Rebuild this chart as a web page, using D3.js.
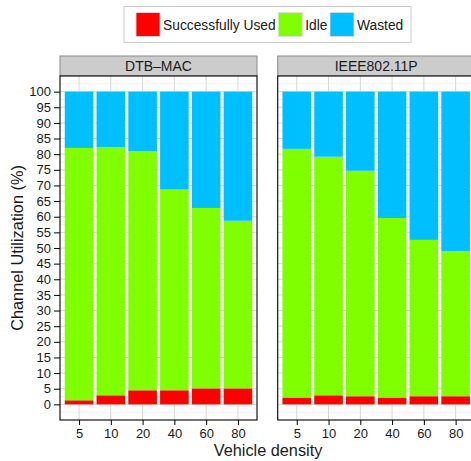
<!DOCTYPE html>
<html><head><meta charset="utf-8">
<script src="https://cdn.jsdelivr.net/npm/d3@7"></script>
<style>body{margin:0;background:#fff}svg{display:block;font-family:"Liberation Sans",Arial,sans-serif}</style>
</head><body><svg id="c" width="471" height="461"></svg>
<script>
const categories = ["5","10","20","40","60","80"];
const panels = ["DTB\u2013MAC","IEEE802.11P"];
const seriesNames = ["Successfully Used","Idle","Wasted"];
const seriesColors = ["#FF0000","#7FFF00","#00BFFF"];
const yTicks = d3.range(0,101,5);
// DTB-MAC
const dtbUsed   = [1.3, 2.9, 4.5, 4.5, 5.1, 5.1];
const dtbIdle   = [80.7, 79.4, 76.5, 64.2, 57.7, 53.6];
const dtbWasted = [18.0, 17.7, 19.0, 31.3, 37.2, 41.3];
// IEEE802.11P
const ieeeUsed   = [2.2, 2.9, 2.6, 2.2, 2.6, 2.6];
const ieeeIdle   = [79.5, 76.3, 72.1, 57.4, 50.0, 46.4];
const ieeeWasted = [18.3, 20.8, 25.3, 40.4, 47.4, 51.0];

const panelData = [[dtbUsed,dtbIdle,dtbWasted],[ieeeUsed,ieeeIdle,ieeeWasted]];

const svg = d3.select("#c");
const pTop = 76, pBottom = 420, panelW = 197, panelX = [60, 277.7];
const y = d3.scaleLinear().domain([-5,105]).range([pBottom, pTop]);

panels.forEach((name, pi) => {
  const x0 = panelX[pi];
  const x = d3.scalePoint().domain(categories).range([x0, x0+panelW]).padding(0.6);
  const bw = x.step()*0.9;
  const g = svg.append("g");
  // strip
  g.append("rect").attr("x",x0).attr("y",56).attr("width",panelW).attr("height",pTop-56)
    .attr("fill","#CCCCCC").attr("stroke","#8a8a8a").attr("stroke-width",1);
  g.append("text").attr("x",x0+panelW/2).attr("y",71).attr("text-anchor","middle")
    .attr("font-size",14).attr("fill","#1a1a1a").text(name);
  // background
  g.append("rect").attr("x",x0).attr("y",pTop).attr("width",panelW).attr("height",pBottom-pTop).attr("fill","#fff");
  // minor grid
  const minor = d3.range(-2.5,105,5);
  g.selectAll(".mn").data(minor).enter().append("line")
    .attr("x1",x0).attr("x2",x0+panelW).attr("y1",d=>y(d)).attr("y2",d=>y(d))
    .attr("stroke","#f0f0f0").attr("stroke-width",1);
  g.selectAll(".mj").data(yTicks).enter().append("line")
    .attr("x1",x0).attr("x2",x0+panelW).attr("y1",d=>y(d)).attr("y2",d=>y(d))
    .attr("stroke","#d6d6d6").attr("stroke-width",1);
  g.selectAll(".vx").data(categories).enter().append("line")
    .attr("x1",d=>x(d)).attr("x2",d=>x(d)).attr("y1",pTop).attr("y2",pBottom)
    .attr("stroke","#d6d6d6").attr("stroke-width",1);
  // stacked bars
  const rows = categories.map((c,i)=>{const o={cat:c}; seriesNames.forEach((s,si)=>o[s]=panelData[pi][si][i]); return o;});
  const stack = d3.stack().keys(seriesNames)(rows);
  stack.forEach((layer, li) => {
    g.selectAll(".b"+li).data(layer).enter().append("rect")
      .attr("x",d=>x(d.data.cat)-bw/2).attr("width",bw)
      .attr("y",d=>y(d[1])).attr("height",d=>y(d[0])-y(d[1]))
      .attr("fill",seriesColors[li]);
  });
  // border
  g.append("rect").attr("x",x0).attr("y",pTop).attr("width",panelW).attr("height",pBottom-pTop)
    .attr("fill","none").attr("stroke","#000").attr("stroke-width",1.1);
  // x axis
  const xa = g.append("g").attr("transform",`translate(0,${pBottom})`).call(d3.axisBottom(x).tickSize(5).tickPadding(4));
  xa.select(".domain").remove();
  xa.selectAll("text").attr("font-size",13).attr("fill","#1a1a1a").attr("font-family","Liberation Sans, Arial, sans-serif");
  xa.selectAll("line").attr("stroke","#000");
  if (pi===0) {
    const ya = g.append("g").attr("transform",`translate(${x0},0)`).call(d3.axisLeft(y).tickValues(yTicks).tickSize(6).tickPadding(3));
    ya.select(".domain").remove();
    ya.selectAll("text").attr("font-size",13).attr("fill","#1a1a1a").attr("font-family","Liberation Sans, Arial, sans-serif");
    ya.selectAll("line").attr("stroke","#000");
  }
});

// axis titles
svg.append("text").attr("x",268).attr("y",456).attr("text-anchor","middle").attr("font-size",16.3).attr("fill","#1a1a1a").text("Vehicle density");
svg.append("text").attr("transform",`translate(23,${(pTop+pBottom)/2}) rotate(-90)`).attr("text-anchor","middle").attr("font-size",16.3).attr("fill","#1a1a1a").text("Channel Utilization (%)");

// legend
const lg = svg.append("g");
lg.append("rect").attr("x",124).attr("y",6.5).attr("width",287).attr("height",36).attr("fill","#fff").attr("stroke","#cccccc").attr("stroke-width",1);
let lx = 136;
seriesNames.forEach((s,i)=>{
  lg.append("rect").attr("x",lx).attr("y",12.5).attr("width",24).attr("height",24).attr("fill",seriesColors[i]).attr("stroke","#e0e0e0").attr("stroke-width",0.8);
  const t = lg.append("text").attr("x",lx+27).attr("y",29.5).attr("font-size",13.8).attr("fill","#1a1a1a").text(s);
  lx = lx + 27 + t.node().getComputedTextLength() + 2.5;
});
</script></body></html>
